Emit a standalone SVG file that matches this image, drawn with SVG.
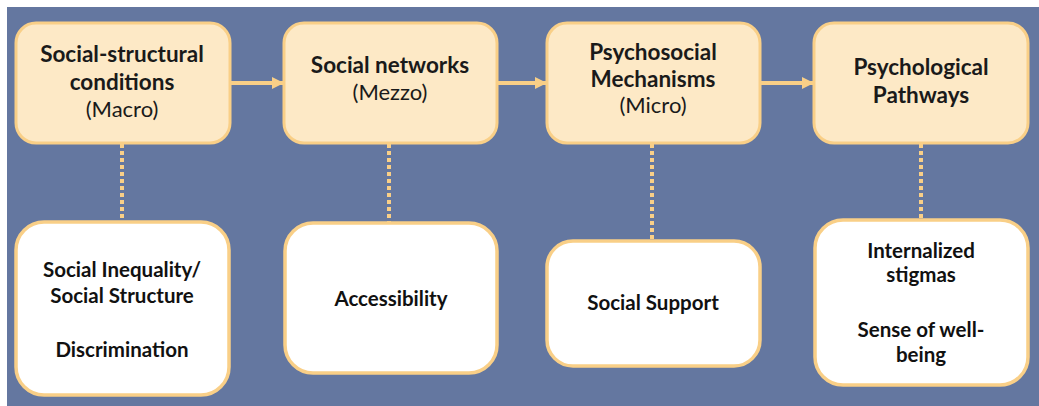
<svg xmlns="http://www.w3.org/2000/svg" width="1039" height="406" viewBox="0 0 1039 406">
<style>
.top{fill:#fde9c6;stroke:#f9cf87;stroke-width:3}
.bot{fill:#ffffff;stroke:#f9cf87;stroke-width:3.5}
.t{font-family:Lato,"Open Sans",sans-serif;font-weight:bold;font-size:22.5px;fill:#1a1a1a;text-anchor:middle}
.s{font-family:Lato,"Open Sans",sans-serif;font-size:22px;fill:#1a1a1a;text-anchor:middle}
.b{font-family:Lato,"Open Sans",sans-serif;font-weight:bold;font-size:20.5px;fill:#111;text-anchor:middle}
.arr{stroke:#f9cf87;stroke-width:4;fill:none}
.dot{stroke:#f9cf87;stroke-width:4;stroke-dasharray:4 3;fill:none}
</style>
<defs>
<marker id="ah" viewBox="0 0 10 10" refX="10" refY="5" markerWidth="3" markerHeight="3.2" orient="auto" markerUnits="strokeWidth">
<path d="M0,0 L10,5 L0,10 z" fill="#f9cf87"/>
</marker>
</defs>
<rect x="7" y="7" width="1032" height="399" fill="#6477a0"/>
<g id="connectors">
<line class="arr" x1="230" y1="83" x2="284" y2="83" marker-end="url(#ah)"/>
<line class="arr" x1="497" y1="83" x2="547" y2="83" marker-end="url(#ah)"/>
<line class="arr" x1="760" y1="83" x2="814" y2="83" marker-end="url(#ah)"/>
<line class="dot" x1="122" y1="144" x2="122" y2="221"/>
<line class="dot" x1="389" y1="144" x2="389" y2="222"/>
<line class="dot" x1="652" y1="144" x2="652" y2="240"/>
<line class="dot" x1="921" y1="144" x2="921" y2="219"/>
</g>
<g id="n1">
<rect class="top" x="16" y="23" width="214" height="120" rx="20"/>
<text class="t" x="122" y="62">Social-structural</text>
<text class="t" x="122" y="90">conditions</text>
<text class="s" x="122" y="117">(Macro)</text>
</g>
<g id="n2">
<rect class="top" x="284" y="23" width="213" height="120" rx="20"/>
<text class="t" x="390" y="73">Social networks</text>
<text class="s" x="390" y="100">(Mezzo)</text>
</g>
<g id="n3">
<rect class="top" x="547" y="23" width="213" height="120" rx="20"/>
<text class="t" x="653" y="60">Psychosocial</text>
<text class="t" x="653" y="87">Mechanisms</text>
<text class="s" x="653" y="113">(Micro)</text>
</g>
<g id="n4">
<rect class="top" x="814" y="23" width="214" height="120" rx="20"/>
<text class="t" x="921" y="75">Psychological</text>
<text class="t" x="921" y="103">Pathways</text>
</g>
<g id="n1b">
<rect class="bot" x="16" y="222" width="213" height="173" rx="28"/>
<text class="b" x="122" y="277">Social Inequality/</text>
<text class="b" x="122" y="303">Social Structure</text>
<text class="b" x="122" y="357">Discrimination</text>
</g>
<g id="n2b">
<rect class="bot" x="285" y="223" width="212" height="150" rx="28"/>
<text class="b" x="391" y="306">Accessibility</text>
</g>
<g id="n3b">
<rect class="bot" x="547" y="241" width="213" height="125" rx="26"/>
<text class="b" x="653" y="310">Social Support</text>
</g>
<g id="n4b">
<rect class="bot" x="815" y="220" width="213" height="165" rx="28"/>
<text class="b" x="921" y="258">Internalized</text>
<text class="b" x="921" y="282">stigmas</text>
<text class="b" x="921" y="337">Sense of well-</text>
<text class="b" x="921" y="362">being</text>
</g>
</svg>
